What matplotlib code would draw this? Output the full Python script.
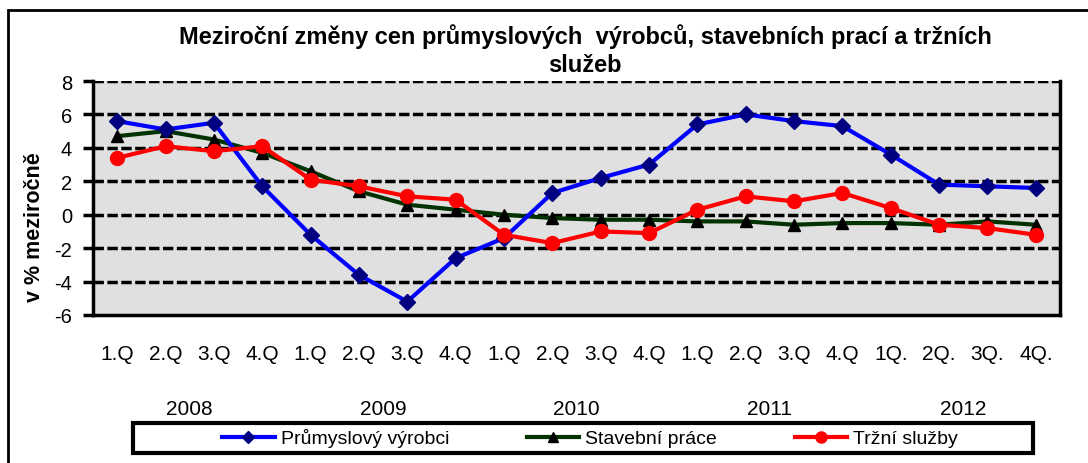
import matplotlib
matplotlib.use("Agg")
import matplotlib.pyplot as plt
from matplotlib.patches import Rectangle
import matplotlib.transforms as mtransforms

plt.rcParams['font.family'] = ['Liberation Sans', 'DejaVu Sans']
plt.rcParams['axes.unicode_minus'] = False

quarters = ["1.Q", "2.Q", "3.Q", "4.Q", "1.Q", "2.Q", "3.Q", "4.Q", "1.Q", "2.Q",
            "3.Q", "4.Q", "1.Q", "2.Q", "3.Q", "4.Q", "1Q.", "2Q.", "3Q.", "4Q."]
years = ["2008", "2009", "2010", "2011", "2012"]

prumysl = [5.6, 5.1, 5.5, 1.7, -1.2, -3.6, -5.2, -2.6, -1.4, 1.3,
           2.2, 3.0, 5.4, 6.0, 5.6, 5.3, 3.6, 1.8, 1.7, 1.6]
stavebni = [4.7, 5.0, 4.5, 3.7, 2.6, 1.4, 0.6, 0.3, 0.0, -0.2,
            -0.3, -0.3, -0.4, -0.4, -0.6, -0.5, -0.5, -0.6, -0.4, -0.6]
trzni = [3.4, 4.1, 3.8, 4.1, 2.1, 1.7, 1.1, 0.9, -1.2, -1.7,
         -1.0, -1.1, 0.3, 1.1, 0.8, 1.3, 0.4, -0.6, -0.8, -1.2]

W, H = 1088, 464
fig = plt.figure(figsize=(W / 100, H / 100), dpi=100)
ax = fig.add_axes([93 / W, 1 - 316 / H, (1060 - 93) / W, (316 - 82) / H])
ax.set_facecolor('#E0E0E0')

x = list(range(len(quarters)))
ax.plot(x, prumysl, color='#0000FF', lw=3, marker='D', ms=8,
        mfc='#000080', mec='#000080', label='Průmyslový výrobci', zorder=5)
ax.plot(x, stavebni, color='#003300', lw=3, marker='^', ms=9,
        mfc='black', mec='black', label='Stavební práce', zorder=4)
ax.plot(x, trzni, color='#FF0000', lw=3, marker='o', ms=10,
        mfc='#FF0000', mec='#FF0000', label='Tržní služby', zorder=6)

ax.set_xlim(-0.5, len(quarters) - 0.5)
ax.set_ylim(-6, 8)
ax.set_yticks(range(-6, 9, 2))
for yv in range(-4, 9, 2):
    ax.axhline(yv, color='black', lw=2.5, ls=(0, (3, 1)), zorder=1)

ax.set_xticks(x)
ax.set_xticklabels(quarters, fontsize=15)
ax.tick_params(axis='x', length=0, pad=21)
ax.tick_params(axis='y', direction='out', length=7, width=2.5, labelsize=14.5, pad=8)

for s in ['left', 'right', 'bottom']:
    ax.spines[s].set_linewidth(2.5)
ax.spines['top'].set_visible(False)

trans = mtransforms.blended_transform_factory(ax.transData, ax.transAxes)
for i, yr in enumerate(years):
    ax.text(4 * i + 1.5, -0.40, yr, transform=trans, ha='center', va='center', fontsize=15)

fig.text(35 / W, 1 - 227 / H, 'v % meziročně', rotation=90, ha='center', va='center',
         fontsize=15.5, fontweight='bold')

fig.text(585 / W, 1 - 37 / H, 'Meziroční změny cen průmyslových  výrobců, stavebních prací a tržních',
         ha='center', va='center', fontsize=17, fontweight='bold')
fig.text(585 / W, 1 - 65 / H, 'služeb', ha='center', va='center', fontsize=17, fontweight='bold')

# figure frame
fig.patches.append(Rectangle((8 / W, -0.1), 1.2, 1 - 11 / H + 0.1, transform=fig.transFigure,
                             fill=False, lw=2, edgecolor='black'))
# legend frame
fig.patches.append(Rectangle((133 / W, 1 - 454 / H), 900 / W, 30 / H, transform=fig.transFigure,
                             fill=False, lw=3, edgecolor='black'))
leg = fig.legend(loc='center', bbox_to_anchor=(590 / W, 1 - 439 / H), ncol=3, frameon=False,
                 fontsize=14, columnspacing=4.0, handlelength=2.7, handletextpad=0.3,
                 markerscale=0.8)

fig.savefig('out.png', dpi=100)
